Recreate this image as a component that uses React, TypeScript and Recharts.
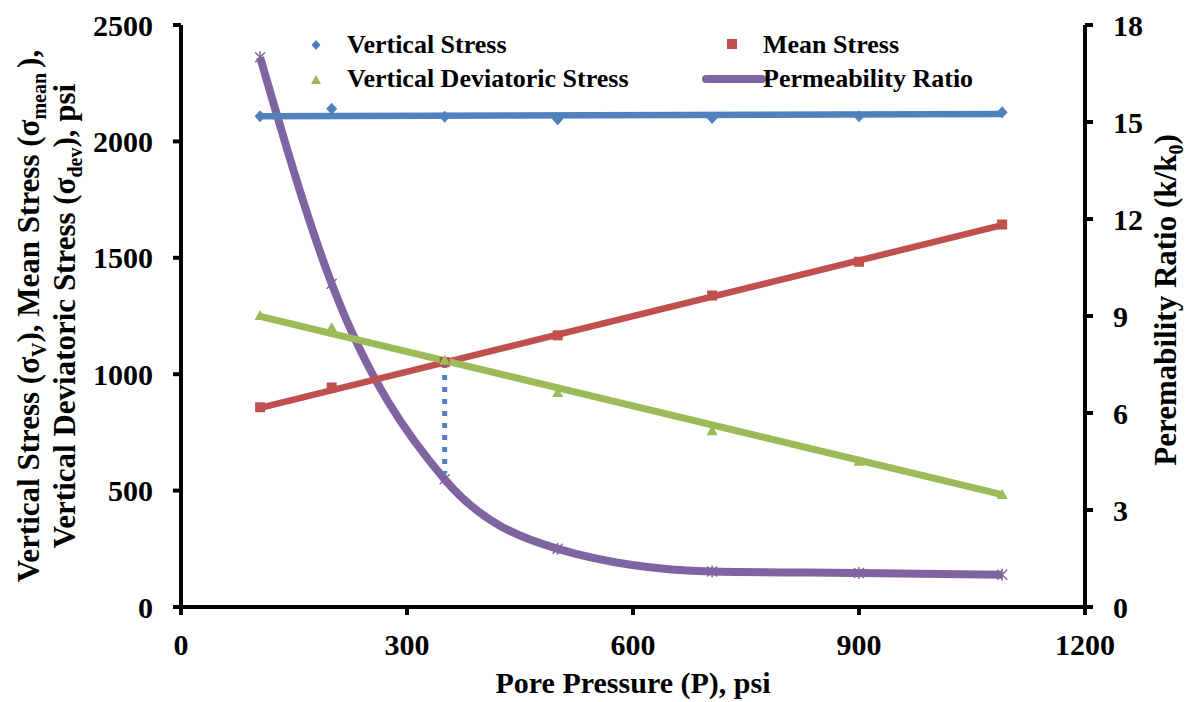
import React from "react";
import { ComposedChart, Line, XAxis, YAxis } from "recharts";

// pore pressure (psi) at each measurement
const pressure = [105, 200, 350, 500, 705, 900, 1090];
const verticalStress = [2108, 2140, 2106, 2095, 2100, 2108, 2125];
const meanStress = [858, 943, 1052, 1167, 1338, 1483, 1643];
const deviatoricStress = [1250, 1198, 1058, 919, 755, 624, 481];
const permRatio = [17.0, 10.0, 3.95, 1.8, 1.1, 1.05, 1.0];

// linear trend lines (end points)
const trendX = [105, 1090];
const verticalTrend = [2108, 2118];
const meanTrend = [855, 1640];
const deviatoricTrend = [1248, 483];

// dotted drop line at the crossing point
const dropX = [350, 350];
const dropY = [1048, 572];

const xTicks = [0, 300, 600, 900, 1200];
const leftTicks = [0, 500, 1000, 1500, 2000, 2500];
const rightTicks = [0, 3, 6, 9, 12, 15, 18];

const BLUE = "#4F81BD";
const RED = "#C0504D";
const GREEN = "#9BBB59";
const PURPLE = "#8064A2";
const FONT = "'Liberation Serif', 'Times New Roman', serif";

const rows = pressure.map((p, i) => ({
	p,
	vs: verticalStress[i],
	ms: meanStress[i],
	dev: deviatoricStress[i],
	perm: permRatio[i],
}));
const vsTrendRows = trendX.map((p, i) => ({ p, v: verticalTrend[i] }));
const msTrendRows = trendX.map((p, i) => ({ p, v: meanTrend[i] }));
const devTrendRows = trendX.map((p, i) => ({ p, v: deviatoricTrend[i] }));
const dropRows = dropX.map((p, i) => ({ p, v: dropY[i] }));

const diamondDot = (props: any) => {
	const { cx, cy, index } = props;
	return (
		<path
			key={`dia-${index}`}
			d={`M${cx},${cy - 6}L${cx + 5.5},${cy}L${cx},${cy + 6}L${cx - 5.5},${cy}Z`}
			fill={BLUE}
		/>
	);
};

const squareDot = (props: any) => {
	const { cx, cy, index } = props;
	return <rect key={`sq-${index}`} x={cx - 5} y={cy - 5} width={10} height={10} fill={RED} />;
};

const triangleDot = (props: any) => {
	const { cx, cy, index } = props;
	return (
		<path
			key={`tri-${index}`}
			d={`M${cx},${cy - 6}L${cx + 5.5},${cy + 4}L${cx - 5.5},${cy + 4}Z`}
			fill={GREEN}
		/>
	);
};

const starDot = (props: any) => {
	const { cx, cy, index } = props;
	return (
		<g key={`st-${index}`} stroke={PURPLE} strokeWidth={1.5}>
			<line x1={cx - 5} y1={cy - 5} x2={cx + 5} y2={cy + 5} />
			<line x1={cx - 5} y1={cy + 5} x2={cx + 5} y2={cy - 5} />
			<line x1={cx} y1={cy - 6} x2={cx} y2={cy + 6} />
		</g>
	);
};

const tickStyle = { fontFamily: FONT, fontWeight: "bold", fontSize: 30, fill: "#000" };
const axisLine = { stroke: "#000", strokeWidth: 4 };

const Titles = () => (
	<svg
		width={1192}
		height={702}
		style={{ position: "absolute", left: 0, top: 0, pointerEvents: "none" }}
		fontFamily={FONT}
		fontWeight="bold"
	>
		{/* legend */}
		<path d="M316,40L320.5,45L316,50L311.5,45Z" fill={BLUE} />
		<text x={347} y={53} fontSize={26}>Vertical Stress</text>
		<rect x={727} y={39} width={10} height={10} fill={RED} />
		<text x={763} y={53} fontSize={26}>Mean Stress</text>
		<path d="M316,75L321,84L311,84Z" fill={GREEN} />
		<text x={347} y={87} fontSize={26}>Vertical Deviatoric Stress</text>
		<line x1={706} y1={79} x2={762} y2={79} stroke={PURPLE} strokeWidth={8} strokeLinecap="round" />
		<text x={763} y={87} fontSize={26}>Permeability Ratio</text>

		{/* x title */}
		<text x={633} y={693} fontSize={30} textAnchor="middle">Pore Pressure (P), psi</text>

		{/* left title */}
		<text transform="translate(39,316) rotate(-90)" fontSize={31} textAnchor="middle">
			Vertical Stress (σ<tspan fontSize={20} dy={7}>V</tspan>
			<tspan dy={-7}>), Mean Stress (σ</tspan>
			<tspan fontSize={20} dy={7}>mean </tspan>
			<tspan dy={-7}>),</tspan>
		</text>
		<text transform="translate(75,316) rotate(-90)" fontSize={31} textAnchor="middle">
			Vertical Deviatoric Stress (σ<tspan fontSize={20} dy={7}>dev</tspan>
			<tspan dy={-7}>), psi</tspan>
		</text>

		{/* right title */}
		<text transform="translate(1176,300) rotate(-90)" fontSize={31} textAnchor="middle">
			Peremability Ratio (k/k<tspan fontSize={20} dy={7}>0</tspan>
			<tspan dy={-7}>)</tspan>
		</text>
	</svg>
);

export default function App() {
	return (
		<div style={{ position: "absolute", left: 0, top: 0, width: 1192, height: 702, background: "#fff" }}>
			<ComposedChart
				width={1192}
				height={702}
				data={rows}
				margin={{ top: 25, right: 27, bottom: 35, left: 81 }}
			>
				<XAxis
					type="number"
					dataKey="p"
					domain={[0, 1200]}
					ticks={xTicks}
					height={60}
					tick={tickStyle}
					tickSize={8}
					tickMargin={19}
					axisLine={axisLine}
					tickLine={axisLine}
					allowDataOverflow
				/>
				<YAxis
					yAxisId="left"
					domain={[0, 2500]}
					ticks={leftTicks}
					width={100}
					tick={tickStyle}
					tickSize={8}
					tickMargin={20}
					axisLine={axisLine}
					tickLine={axisLine}
				/>
				<YAxis
					yAxisId="right"
					orientation="right"
					domain={[0, 18]}
					ticks={rightTicks}
					width={80}
					tick={{ ...tickStyle, textAnchor: "start" }}
					tickSize={8}
					tickMargin={20}
					axisLine={axisLine}
					tickLine={axisLine}
				/>

				<Line
					yAxisId="right"
					dataKey="perm"
					type="monotone"
					stroke={PURPLE}
					strokeWidth={8}
					dot={starDot}
					activeDot={false}
					isAnimationActive={false}
				/>

				<Line yAxisId="left" data={vsTrendRows} dataKey="v" type="linear" stroke={BLUE} strokeWidth={6.5} dot={false} activeDot={false} isAnimationActive={false} />
				<Line yAxisId="left" data={msTrendRows} dataKey="v" type="linear" stroke={RED} strokeWidth={6.5} dot={false} activeDot={false} isAnimationActive={false} />
				<Line yAxisId="left" data={devTrendRows} dataKey="v" type="linear" stroke={GREEN} strokeWidth={7} dot={false} activeDot={false} isAnimationActive={false} />

				<Line yAxisId="left" dataKey="vs" stroke="none" dot={diamondDot} activeDot={false} isAnimationActive={false} />
				<Line yAxisId="left" dataKey="ms" stroke="none" dot={squareDot} activeDot={false} isAnimationActive={false} />
				<Line yAxisId="left" dataKey="dev" stroke="none" dot={triangleDot} activeDot={false} isAnimationActive={false} />

				<Line
					yAxisId="left"
					data={dropRows}
					dataKey="v"
					type="linear"
					stroke={BLUE}
					strokeWidth={5}
					strokeDasharray="5 7"
					dot={false}
					activeDot={false}
					isAnimationActive={false}
				/>
			</ComposedChart>
			<Titles />
		</div>
	);
}
